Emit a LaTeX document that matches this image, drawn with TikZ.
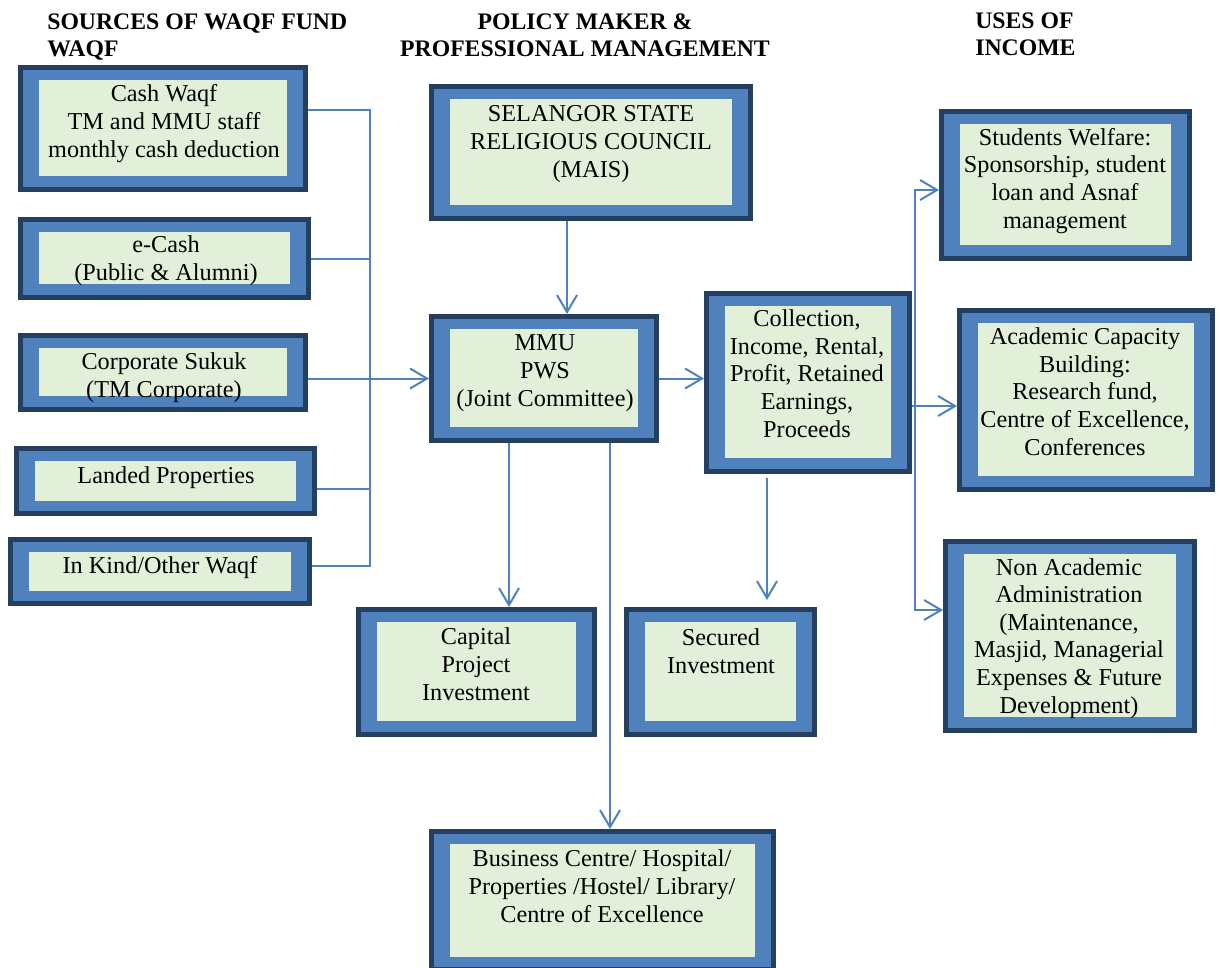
\documentclass[tikz,border=0pt]{standalone}
\usepackage{fontspec}
\setmainfont{Liberation Serif}
\usetikzlibrary{arrows.meta,calc}
\definecolor{boxdark}{HTML}{243F60}
\definecolor{boxblue}{HTML}{4F81BD}
\definecolor{boxgreen}{HTML}{E2EFD9}
\definecolor{linkblue}{HTML}{4F81BD}

\begin{document}
\begin{tikzpicture}[x=0.02cm, y=-0.02cm,
    waqf/.style={rectangle, draw=boxdark, line width=0.1cm, fill=boxblue, inner sep=0pt,
      path picture={\fill[boxgreen] ([shift={(18,12)}]path picture bounding box.north west)
        rectangle ([shift={(-18,-13)}]path picture bounding box.south east);}},
    txt/.style={align=center, font=\fontsize{13.8}{15.7}\selectfont, inner sep=0pt, anchor=base},
    head/.style={align=left, font=\fontsize{13.5}{14.8}\selectfont\bfseries, inner sep=0pt, anchor=base west},
    link/.style={draw=linkblue, line width=0.04cm},
    arr/.style={link, -{Straight Barb[length=0.34cm, width=0.4cm]}}
    ]
\useasboundingbox (0,0) rectangle (1220,967);
\clip (0,0) rectangle (1220,967);

\node[head] (hsrc) at (47,56) {SOURCES OF WAQF FUND\\WAQF};
\node[head, align=center, anchor=base] (hpol) at (585,56) {POLICY MAKER \&\\PROFESSIONAL MANAGEMENT};
\node[head] (huse) at (975,55) {USES OF\\INCOME};

\node[waqf, minimum width=5.70cm, minimum height=2.44cm] (cash) at (163,128.5) {};
\node[waqf, minimum width=5.76cm, minimum height=1.56cm] (ecash) at (164.5,258.5) {};
\node[waqf, minimum width=5.70cm, minimum height=1.48cm] (sukuk) at (163,372.5) {};
\node[waqf, minimum width=5.96cm, minimum height=1.30cm] (landed) at (165.5,481) {};
\node[waqf, minimum width=5.98cm, minimum height=1.28cm] (kind) at (160,571.5) {};
\node[waqf, minimum width=6.38cm, minimum height=2.64cm] (mais) at (591,152.5) {};
\node[waqf, minimum width=4.50cm, minimum height=2.48cm] (mmu) at (544,378.5) {};
\node[waqf, minimum width=4.06cm, minimum height=3.56cm] (coll) at (808,382.5) {};
\node[waqf, minimum width=4.96cm, minimum height=2.94cm] (students) at (1065.5,185) {};
\node[waqf, minimum width=5.06cm, minimum height=3.58cm] (academic) at (1086,400) {};
\node[waqf, minimum width=4.98cm, minimum height=3.78cm] (nonacad) at (1070,636) {};
\node[waqf, minimum width=4.72cm, minimum height=2.50cm] (capital) at (476.5,672) {};
\node[waqf, minimum width=3.76cm, minimum height=2.50cm] (secured) at (720.5,672) {};
\node[waqf, minimum width=6.84cm, minimum height=2.76cm] (business) at (602.5,900.5) {};

\node[txt] (cashT) at (164,157) {Cash Waqf\\TM and MMU staff\\monthly cash deduction};
\node[txt] (ecashT) at (166,280) {e-Cash\\(Public \& Alumni)};
\node[txt] (sukukT) at (164,397) {Corporate Sukuk\\(TM Corporate)};
\node[txt] (landedT) at (166,483) {Landed Properties};
\node[txt] (kindT) at (160,573) {In Kind/Other Waqf};
\node[txt] (maisT) at (591,177) {SELANGOR STATE\\RELIGIOUS COUNCIL\\(MAIS)};
\node[txt] (mmuT) at (545,406) {MMU\\PWS\\(Joint Committee)};
\node[txt] (collT) at (807,437) {Collection,\\Income, Rental,\\Profit, Retained\\Earnings,\\Proceeds};
\node[txt] (studentsT) at (1065,228) {Students Welfare:\\Sponsorship, student\\loan and Asnaf\\management};
\node[txt] (academicT) at (1085,455) {Academic Capacity\\Building:\\Research fund,\\Centre of Excellence,\\Conferences};
\node[txt] (nonacadT) at (1069,713) {Non Academic\\Administration\\(Maintenance,\\Masjid, Managerial\\Expenses \& Future\\Development)};
\node[txt] (capitalT) at (476,700) {Capital\\Project\\Investment};
\node[txt] (securedT) at (721,673) {Secured\\Investment};
\node[txt] (businessT) at (602,922) {Business Centre/ Hospital/\\Properties /Hostel/ Library/\\Centre of Excellence};

\coordinate (busT) at (370,110);
\coordinate (busB) at (370,566);
\coordinate (fork) at (915,406);

\draw[link] (cash.east |- busT) -- (busT) -- (busB) -- (kind.east |- busB);
\draw[link] (ecash.east) -- (ecash.east -| busT);
\draw[link] (landed.east |- 0,489) -- (busT |- 0,489);
\draw[arr] (sukuk.east |- mmu.west) -- (mmu.west);

\draw[arr] (mais.south -| 567,0) -- (mmu.north -| 567,0);
\draw[arr] (mmu.east) -- (mmu.east -| coll.west);
\draw[arr] (mmu.south -| 509,0) -- (capital.north -| 509,0);
\draw[arr] (mmu.south -| 610,0) -- (business.north -| 610,0);
\draw[arr, shorten <=0.08cm, shorten >=0.14cm] (coll.south -| 767,0) -- (secured.north -| 767,0);

\draw[link] (coll.east |- fork) -- (fork);
\draw[arr] (fork) -- (academic.west |- fork);
\draw[arr] (fork) |- (students.west |- 0,190);
\draw[arr] (fork) |- (nonacad.west |- 0,610);
\end{tikzpicture}
\end{document}
